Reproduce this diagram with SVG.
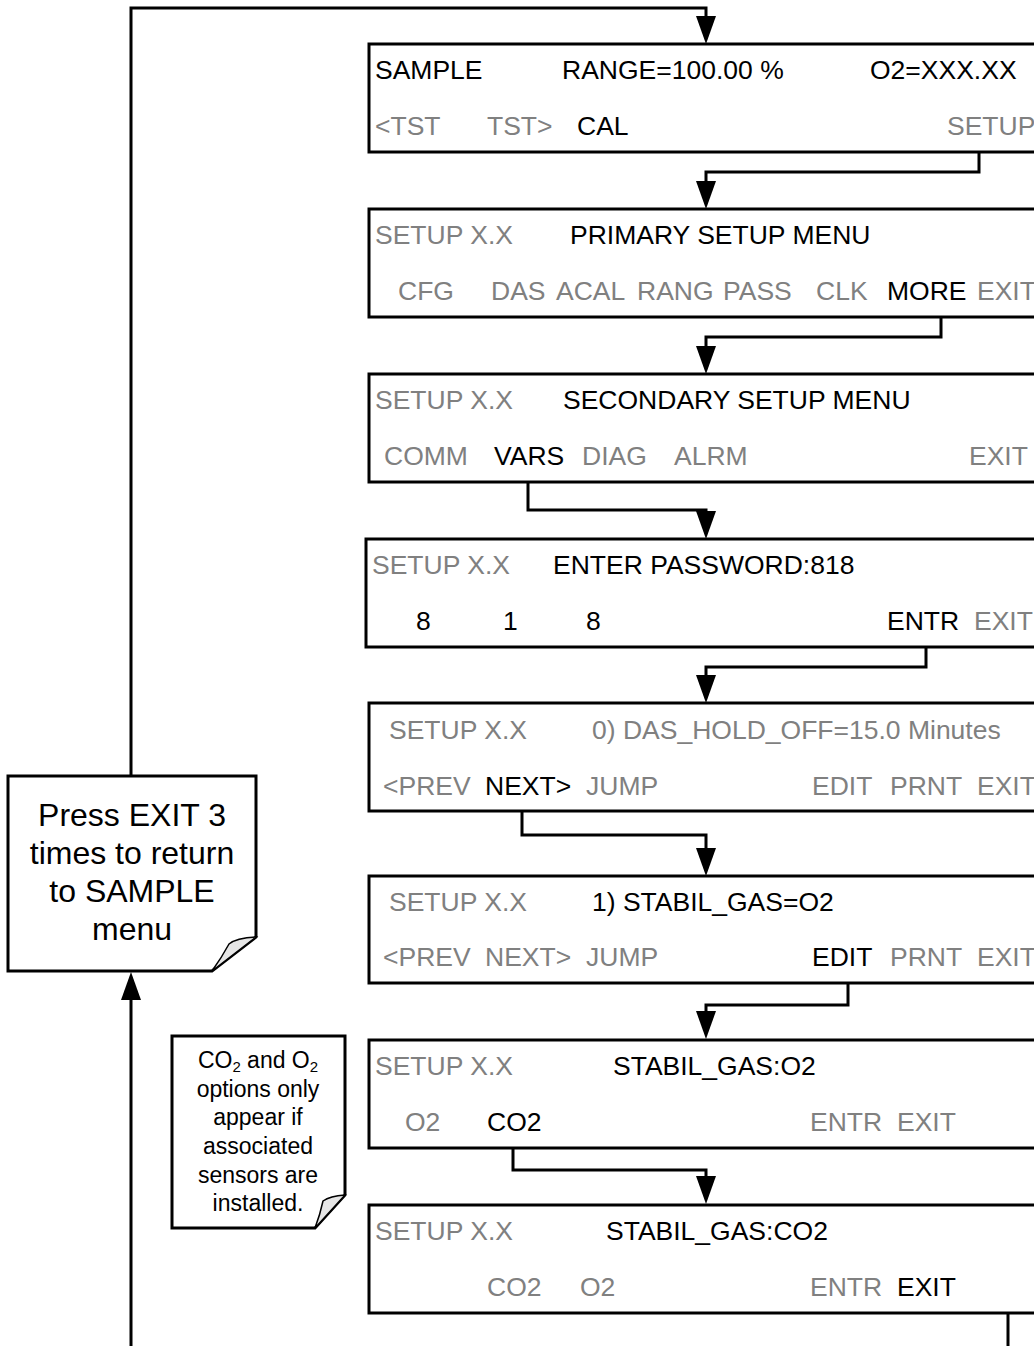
<svg xmlns="http://www.w3.org/2000/svg" width="1034" height="1346" viewBox="0 0 1034 1346">
<style>
.box{fill:#fff;stroke:#000;stroke-width:3}
.t{font-family:"Liberation Sans",Arial,sans-serif;font-size:26.5px}
.g{fill:#808080}
.k{fill:#000}
.c{fill:none;stroke:#000;stroke-width:3}
.note{fill:#fff;stroke:#000;stroke-width:3;stroke-linejoin:miter}
.fold{fill:#e6e6e6;stroke:#000;stroke-width:1.5}
.nt{font-family:"Liberation Sans",Arial,sans-serif;fill:#000;text-anchor:middle}
</style>
<defs>
<marker id="ah" markerUnits="userSpaceOnUse" markerWidth="28" markerHeight="20" refX="16" refY="10" orient="auto">
<path d="M0,0 L28,10 L0,20 Z" fill="#000"/>
</marker>
</defs>
<g id="connectors">
<path class="c" d="M131,776 V8 H706 V32" marker-end="url(#ah)"/>
<path class="c" d="M979,148 V172 H706 V197" marker-end="url(#ah)"/>
<path class="c" d="M941,306 V337 H706 V362" marker-end="url(#ah)"/>
<path class="c" d="M528,470 V510 H706 V527" marker-end="url(#ah)"/>
<path class="c" d="M926,647 V667 H706 V691" marker-end="url(#ah)"/>
<path class="c" d="M522,800 V835 H706 V864" marker-end="url(#ah)"/>
<path class="c" d="M848,971 V1005 H706 V1027" marker-end="url(#ah)"/>
<path class="c" d="M513,1135 V1170 H706 V1192" marker-end="url(#ah)"/>
<path class="c" d="M1008,1313 V1360 H131 V984" marker-end="url(#ah)"/>
</g>
<g id="box-sample">
<rect class="box" x="369" y="44" width="680" height="108"/>
<text class="t k" x="375" y="79">SAMPLE</text>
<text class="t k" x="562" y="79">RANGE=100.00 %</text>
<text class="t k" x="870" y="79">O2=XXX.XX</text>
<text class="t g" x="375" y="135">&lt;TST</text>
<text class="t g" x="487" y="135">TST&gt;</text>
<text class="t k" x="577" y="135">CAL</text>
<text class="t g" x="947" y="135">SETUP</text>
</g>
<g id="box-primary">
<rect class="box" x="369" y="209" width="680" height="108"/>
<text class="t g" x="375" y="244">SETUP X.X</text>
<text class="t k" x="570" y="244">PRIMARY SETUP MENU</text>
<text class="t g" x="398" y="300">CFG</text>
<text class="t g" x="491" y="300">DAS</text>
<text class="t g" x="556" y="300">ACAL</text>
<text class="t g" x="637" y="300">RANG</text>
<text class="t g" x="723" y="300">PASS</text>
<text class="t g" x="816" y="300">CLK</text>
<text class="t k" x="887" y="300">MORE</text>
<text class="t g" x="977" y="300">EXIT</text>
</g>
<g id="box-secondary">
<rect class="box" x="369" y="374" width="680" height="108"/>
<text class="t g" x="375" y="409">SETUP X.X</text>
<text class="t k" x="563" y="409">SECONDARY SETUP MENU</text>
<text class="t g" x="384" y="465">COMM</text>
<text class="t k" x="494" y="465">VARS</text>
<text class="t g" x="582" y="465">DIAG</text>
<text class="t g" x="674" y="465">ALRM</text>
<text class="t g" x="969" y="465">EXIT</text>
</g>
<g id="box-password">
<rect class="box" x="366" y="539" width="680" height="108"/>
<text class="t g" x="372" y="574">SETUP X.X</text>
<text class="t k" x="553" y="574">ENTER PASSWORD:818</text>
<text class="t k" x="416" y="630">8</text>
<text class="t k" x="503" y="630">1</text>
<text class="t k" x="586" y="630">8</text>
<text class="t k" x="887" y="630">ENTR</text>
<text class="t g" x="974" y="630">EXIT</text>
</g>
<g id="box-dasholdoff">
<rect class="box" x="369" y="703" width="680" height="108"/>
<text class="t g" x="389" y="739">SETUP X.X</text>
<text class="t g" x="592" y="739">0) DAS_HOLD_OFF=15.0 Minutes</text>
<text class="t g" x="383" y="795">&lt;PREV</text>
<text class="t k" x="485" y="795">NEXT&gt;</text>
<text class="t g" x="586" y="795">JUMP</text>
<text class="t g" x="812" y="795">EDIT</text>
<text class="t g" x="890" y="795">PRNT</text>
<text class="t g" x="977" y="795">EXIT</text>
</g>
<g id="box-stabilgas">
<rect class="box" x="369" y="876" width="680" height="107"/>
<text class="t g" x="389" y="911">SETUP X.X</text>
<text class="t k" x="592" y="911">1) STABIL_GAS=O2</text>
<text class="t g" x="383" y="966">&lt;PREV</text>
<text class="t g" x="485" y="966">NEXT&gt;</text>
<text class="t g" x="586" y="966">JUMP</text>
<text class="t k" x="812" y="966">EDIT</text>
<text class="t g" x="890" y="966">PRNT</text>
<text class="t g" x="977" y="966">EXIT</text>
</g>
<g id="box-gas-o2">
<rect class="box" x="369" y="1040" width="680" height="108"/>
<text class="t g" x="375" y="1075">SETUP X.X</text>
<text class="t k" x="613" y="1075">STABIL_GAS:O2</text>
<text class="t g" x="405" y="1131">O2</text>
<text class="t k" x="487" y="1131">CO2</text>
<text class="t g" x="810" y="1131">ENTR</text>
<text class="t g" x="897" y="1131">EXIT</text>
</g>
<g id="box-gas-co2">
<rect class="box" x="369" y="1205" width="680" height="108"/>
<text class="t g" x="375" y="1240">SETUP X.X</text>
<text class="t k" x="606" y="1240">STABIL_GAS:CO2</text>
<text class="t g" x="487" y="1296">CO2</text>
<text class="t g" x="580" y="1296">O2</text>
<text class="t g" x="810" y="1296">ENTR</text>
<text class="t k" x="897" y="1296">EXIT</text>
</g>
<g id="note-exit">
<path class="note" d="M8,776 H256 V937 L212,971 H8 Z"/>
<path class="fold" d="M212,971 L256,937 Q236,938 229,944 Q222,957 212,971 Z"/>
<text class="nt" font-size="32" x="132" y="826">Press EXIT 3</text>
<text class="nt" font-size="32" x="132" y="864">times to return</text>
<text class="nt" font-size="32" x="132" y="902">to SAMPLE</text>
<text class="nt" font-size="32" x="132" y="940">menu</text>
</g>
<g id="note-sensors">
<path class="note" d="M172,1036 H345 V1195 L315,1228 H172 Z"/>
<path class="fold" d="M315,1228 L345,1195 Q330,1196 323,1201 Q320,1215 315,1228 Z"/>
<text class="nt" font-size="23" x="258" y="1068">CO<tspan font-size="15" dy="4">2</tspan><tspan dy="-4"> and O</tspan><tspan font-size="15" dy="4">2</tspan></text>
<text class="nt" font-size="23" x="258" y="1097">options only</text>
<text class="nt" font-size="23" x="258" y="1125">appear if</text>
<text class="nt" font-size="23" x="258" y="1154">associated</text>
<text class="nt" font-size="23" x="258" y="1183">sensors are</text>
<text class="nt" font-size="23" x="258" y="1211">installed.</text>
</g>
</svg>
